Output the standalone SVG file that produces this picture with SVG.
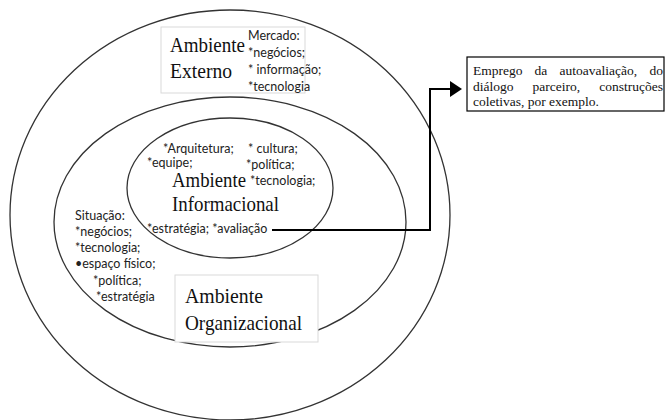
<svg xmlns="http://www.w3.org/2000/svg" width="666" height="420" viewBox="0 0 666 420">
<style>
.ring{fill:none;stroke:#333;stroke-width:1.3}
.lbl{fill:#fff;stroke:#d9d9d9;stroke-width:1}
.big{font-family:"Liberation Serif",serif;font-size:21px;fill:#111}
.sm{font-family:Lato,"Liberation Sans",sans-serif;font-size:12.5px;fill:#222}
.note{font-family:"Liberation Serif",serif;font-size:13.5px;fill:#111}
.conn{fill:none;stroke:#000;stroke-width:2}
</style>
<rect width="666" height="420" fill="#fff"/>
<g id="ambiente-externo">
<ellipse class="ring" cx="230" cy="215" rx="220" ry="205"/>
<rect class="lbl" x="161" y="27" width="144" height="66"/>
<text class="big" x="170" y="52" textLength="75" lengthAdjust="spacingAndGlyphs">Ambiente</text>
<text class="big" x="170" y="78" textLength="62" lengthAdjust="spacingAndGlyphs">Externo</text>
<text class="sm" x="248" y="40">Mercado:</text>
<text class="sm" x="248" y="57">*negócios;</text>
<text class="sm" x="248" y="74">* informação;</text>
<text class="sm" x="248" y="91">*tecnologia</text>
</g>
<g id="ambiente-organizacional">
<ellipse class="ring" cx="230" cy="222" rx="176" ry="125"/>
<rect class="lbl" x="175" y="275" width="143" height="67"/>
<text class="big" x="185" y="303" textLength="78" lengthAdjust="spacingAndGlyphs">Ambiente</text>
<text class="big" x="185" y="330" textLength="117" lengthAdjust="spacingAndGlyphs">Organizacional</text>
<text class="sm" x="75" y="220">Situação:</text>
<text class="sm" x="75" y="236">*negócios;</text>
<text class="sm" x="75" y="252">*tecnologia;</text>
<text class="sm" x="75" y="268">•espaço físico;</text>
<text class="sm" x="93" y="285">*política;</text>
<text class="sm" x="96" y="301">*estratégia</text>
</g>
<g id="ambiente-informacional">
<ellipse class="ring" cx="230" cy="188" rx="103" ry="70"/>
<text class="sm" x="163" y="153">*Arquitetura;</text>
<text class="sm" x="248" y="153">* cultura;</text>
<text class="sm" x="147" y="167">*equipe;</text>
<text class="sm" x="246" y="169">*política;</text>
<text class="big" x="172" y="187" textLength="74" lengthAdjust="spacingAndGlyphs">Ambiente</text>
<text class="sm" x="250" y="185">*tecnologia;</text>
<text class="big" x="172" y="211" textLength="107" lengthAdjust="spacingAndGlyphs">Informacional</text>
<text class="sm" x="147" y="233">*estratégia; *avaliação</text>
</g>
<g id="nota">
<rect x="467" y="57" width="197" height="54" fill="#fff" stroke="#000" stroke-width="1.2"/>
<text class="note" y="75"><tspan x="473">Emprego</tspan><tspan x="534.6">da</tspan><tspan x="559.6">autoavaliação,</tspan></text>
<text class="note" x="663" y="75" text-anchor="end">do</text>
<text class="note" y="90.5"><tspan x="473">diálogo</tspan><tspan x="532.5">parceiro,</tspan></text>
<text class="note" x="663" y="90.5" text-anchor="end">construções</text>
<text class="note" x="473" y="106">coletivas, por exemplo.</text>
</g>
<g id="connectors">
<polyline class="conn" points="272,230 430,230 430,89 451,89"/>
<polygon points="450,81 462,89 450,97" fill="#000"/>
</g>
</svg>
